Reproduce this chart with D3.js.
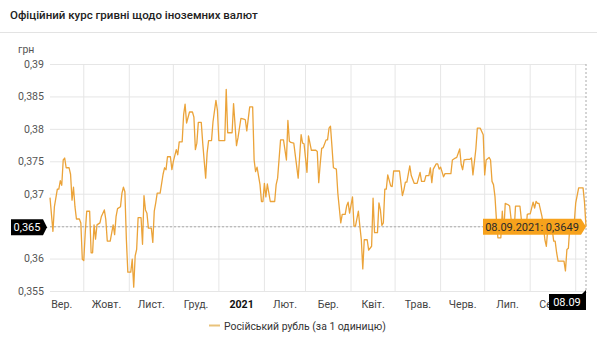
<!DOCTYPE html>
<html><head><meta charset="utf-8">
<script src="https://cdn.jsdelivr.net/npm/d3@7"></script>
<style>
html,body{margin:0;padding:0;background:#fff;}
svg{display:block;font-family:Roboto,"Noto Sans",Arial,sans-serif;}
</style></head>
<body><svg id="c" width="597" height="350"></svg>
<script>
const title = "Офіційний курс гривні щодо іноземних валют";
const unitLabel = "грн";
const seriesName = "Російський рубль (за 1 одиницю)";
const yTicks = [0.355, 0.36, 0.365, 0.37, 0.375, 0.38, 0.385, 0.39];
const monthLabels = ["Вер.","Жовт.","Лист.","Груд.","2021","Лют.","Бер.","Квіт.","Трав.","Черв.","Лип.","Серп."];
const dates = [
"2020-09-08","2020-09-10","2020-09-11","2020-09-13","2020-09-14","2020-09-15","2020-09-16","2020-09-17","2020-09-18","2020-09-19",
"2020-09-21","2020-09-22","2020-09-23","2020-09-24","2020-09-25","2020-09-26","2020-09-28","2020-09-29","2020-09-30",
"2020-10-01","2020-10-02","2020-10-03","2020-10-05","2020-10-06","2020-10-07","2020-10-08","2020-10-09","2020-10-10","2020-10-12",
"2020-10-13","2020-10-14","2020-10-15","2020-10-16","2020-10-17","2020-10-19","2020-10-21","2020-10-22","2020-10-23","2020-10-24",
"2020-10-26","2020-10-27","2020-10-28","2020-10-29","2020-10-30","2020-10-31",
"2020-11-02","2020-11-03","2020-11-04","2020-11-05","2020-11-06","2020-11-07","2020-11-09","2020-11-10","2020-11-11","2020-11-12",
"2020-11-13","2020-11-14","2020-11-16","2020-11-17","2020-11-18","2020-11-19","2020-11-20","2020-11-22","2020-11-24","2020-11-25",
"2020-11-26","2020-11-27","2020-11-29","2020-11-30",
"2020-12-01","2020-12-03","2020-12-04","2020-12-05","2020-12-07","2020-12-08","2020-12-09","2020-12-10","2020-12-12","2020-12-14",
"2020-12-15","2020-12-16","2020-12-17","2020-12-18","2020-12-20","2020-12-21","2020-12-23","2020-12-24","2020-12-25","2020-12-27",
"2020-12-28","2020-12-30","2020-12-31",
"2021-01-01","2021-01-05","2021-01-06","2021-01-07","2021-01-10","2021-01-11","2021-01-13","2021-01-14","2021-01-16","2021-01-18",
"2021-01-19","2021-01-20","2021-01-22","2021-01-24","2021-01-25","2021-01-26","2021-01-27","2021-01-29","2021-01-30","2021-01-31",
"2021-02-01","2021-02-02","2021-02-03","2021-02-05","2021-02-08","2021-02-09","2021-02-10","2021-02-12","2021-02-14","2021-02-16",
"2021-02-17","2021-02-18","2021-02-19","2021-02-21","2021-02-24","2021-02-26","2021-02-27","2021-02-28",
"2021-03-02","2021-03-03","2021-03-05","2021-03-08","2021-03-09","2021-03-10","2021-03-11","2021-03-12","2021-03-13","2021-03-15",
"2021-03-16","2021-03-17","2021-03-18","2021-03-19","2021-03-20","2021-03-22","2021-03-23","2021-03-25","2021-03-26","2021-03-28",
"2021-03-29","2021-03-30","2021-03-31",
"2021-04-02","2021-04-03","2021-04-04","2021-04-06","2021-04-07","2021-04-08","2021-04-09","2021-04-10","2021-04-12","2021-04-13",
"2021-04-15","2021-04-16","2021-04-17","2021-04-19","2021-04-20","2021-04-21","2021-04-22","2021-04-23","2021-04-24","2021-04-25",
"2021-04-26","2021-04-28","2021-04-29","2021-04-30",
"2021-05-04","2021-05-06","2021-05-07","2021-05-08","2021-05-09","2021-05-11","2021-05-12","2021-05-14","2021-05-16","2021-05-18",
"2021-05-19","2021-05-21","2021-05-22","2021-05-24","2021-05-25","2021-05-26","2021-05-27","2021-05-29","2021-05-30","2021-05-31",
"2021-06-01","2021-06-03","2021-06-04","2021-06-06","2021-06-08","2021-06-09","2021-06-11","2021-06-12","2021-06-14","2021-06-15",
"2021-06-16","2021-06-17","2021-06-19","2021-06-21","2021-06-22","2021-06-23","2021-06-25","2021-06-26","2021-06-28","2021-06-30",
"2021-07-01","2021-07-02","2021-07-04","2021-07-05","2021-07-06","2021-07-07","2021-07-08","2021-07-09","2021-07-10","2021-07-12",
"2021-07-13","2021-07-14","2021-07-15","2021-07-17","2021-07-18","2021-07-20","2021-07-21","2021-07-22","2021-07-25","2021-07-26",
"2021-07-27","2021-07-29","2021-07-30","2021-07-31",
"2021-08-01","2021-08-03","2021-08-04","2021-08-05","2021-08-06","2021-08-07","2021-08-09","2021-08-10","2021-08-11","2021-08-12",
"2021-08-13","2021-08-15","2021-08-16","2021-08-17","2021-08-18","2021-08-19","2021-08-20","2021-08-23","2021-08-24","2021-08-25",
"2021-08-26","2021-08-27","2021-08-28","2021-08-31",
"2021-09-01","2021-09-03","2021-09-06","2021-09-07","2021-09-08"
];
const values = [
0.3694,0.3642,0.368,0.3707,0.3707,0.372,0.3713,0.3752,0.3755,0.374,
0.374,0.373,0.369,0.371,0.368,0.3661,0.3661,0.3655,0.3599,
0.3597,0.364,0.3673,0.3673,0.3609,0.3609,0.3652,0.363,0.3652,0.3655,
0.3665,0.367,0.3675,0.366,0.3627,0.3627,0.3652,0.3637,0.3665,0.3677,
0.368,0.3701,0.371,0.3703,0.363,0.3579,
0.3579,0.3599,0.3556,0.3604,0.3614,0.3663,0.3663,0.3622,0.3697,0.3675,
0.367,0.3647,0.3647,0.3625,0.3673,0.3686,0.3701,0.3701,0.373,0.374,
0.3737,0.3757,0.3757,0.3737,
0.375,0.3768,0.376,0.378,0.378,0.3822,0.3838,0.3809,0.3826,0.3826,
0.3818,0.3768,0.3778,0.381,0.381,0.3778,0.3724,0.3763,0.3782,0.3782,
0.3811,0.3844,0.3829,
0.3782,0.3782,0.3861,0.3794,0.3794,0.3839,0.3774,0.3786,0.3816,0.3815,
0.3814,0.3797,0.3834,0.3834,0.3752,0.3734,0.3741,0.3714,0.3688,0.3688,
0.3716,0.3695,0.3715,0.3688,0.3688,0.3714,0.3724,0.3783,0.3783,0.3752,
0.3813,0.3781,0.3779,0.3778,0.3724,0.3791,0.3778,0.3777,
0.3733,0.3789,0.3767,0.3767,0.3765,0.3717,0.3746,0.377,0.3771,0.3783,
0.3783,0.3801,0.3804,0.3773,0.374,0.3738,0.3701,0.3655,0.3668,0.3668,
0.3681,0.3687,0.367,
0.3695,0.365,0.365,0.3673,0.365,0.3629,0.3584,0.3629,0.3629,0.3613,
0.3619,0.3693,0.364,0.364,0.3686,0.3675,0.3651,0.3655,0.3707,0.3707,
0.3729,0.3712,0.3711,0.3735,
0.3735,0.3697,0.3706,0.3718,0.3718,0.3743,0.3728,0.3716,0.3716,0.3733,
0.3719,0.3719,0.3728,0.3728,0.374,0.3717,0.3738,0.3746,0.3746,0.3738,
0.3741,0.3726,0.3731,0.3731,0.3731,0.3752,0.3755,0.3756,0.3769,0.3745,
0.3737,0.3752,0.3753,0.3753,0.3755,0.3729,0.3769,0.3801,0.3801,0.3791,
0.3729,0.3752,0.3756,0.3752,0.3719,0.3714,0.3696,0.366,0.3632,0.3632,
0.3673,0.364,0.3685,0.3683,0.3681,0.364,0.364,0.3681,0.3681,0.366,
0.364,0.364,0.3668,0.3669,
0.3669,0.3687,0.3678,0.3688,0.3685,0.3685,0.3665,0.365,0.3629,0.3619,
0.3647,0.3647,0.3645,0.3627,0.3627,0.3609,0.3596,0.3596,0.3596,0.3581,
0.3614,0.3616,0.365,0.3655,
0.3686,0.3709,0.3709,0.3686,0.3649
];

const parse = d3.timeParse("%Y-%m-%d");
const data = dates.map((d,i)=>({date:parse(d), value:values[i]}));
const svg = d3.select("#c");
const lineColor = "#eba339";
const fmt = v => String(v).replace(".", ",");
const badgeValue = 0.365;

// header
svg.append("text").attr("x",10).attr("y",19).attr("font-size",11.5).attr("font-weight",500)
  .attr("fill","#222").text(title);
svg.append("line").attr("x1",0).attr("x2",597).attr("y1",32.5).attr("y2",32.5).attr("stroke","#e3e3e3");
svg.append("text").attr("x",18).attr("y",53).attr("font-size",10.5).attr("fill","#555").text(unitLabel);

const x = d3.scaleTime().domain([parse("2020-09-08"), parse("2021-09-08")]).range([50, 586]);
const y = d3.scaleLinear().domain([0.355, 0.39]).range([291, 64]);

// horizontal grid + y labels
const yAxis = d3.axisLeft(y).tickValues(yTicks).tickSize(-536).tickFormat(fmt).tickPadding(6);
const gy = svg.append("g").attr("transform","translate(50,0)").call(yAxis);
gy.select(".domain").remove();
gy.selectAll(".tick line").attr("stroke","#e6e6e6");
gy.selectAll(".tick text").attr("font-size",10.6).attr("fill","#555").attr("font-family","Roboto").attr("x",-6);
// the value badge replaces the label it covers
gy.selectAll(".tick").filter(d=>d===badgeValue).select("text").remove();

// vertical month grid
const monthStarts = d3.timeMonth.range(parse("2020-09-09"), parse("2021-09-08"));
svg.append("g").selectAll("line").data(monthStarts).join("line")
  .attr("x1",d=>x(d)).attr("x2",d=>x(d)).attr("y1",64).attr("y2",291)
  .attr("stroke","#e6e6e6");

// x labels at mid-month
const labelMonths = d3.timeMonth.range(parse("2020-09-01"), parse("2021-09-01"));
svg.append("g").selectAll("text").data(labelMonths).join("text")
  .attr("x",(d)=>x(new Date((+d + +d3.timeMonth.offset(d,1))/2)))
  .attr("y",307.5).attr("text-anchor","middle").attr("font-size",10.6)
  .attr("fill",(d,i)=>monthLabels[i]==="2021"?"#111":"#444")
  .attr("font-weight",(d,i)=>monthLabels[i]==="2021"?700:400)
  .text((d,i)=>monthLabels[i]);

// crosshair
const last = data[data.length-1];
svg.append("line").attr("x1",50).attr("x2",586).attr("y1",y(last.value)).attr("y2",y(last.value))
  .attr("stroke","#aaa").attr("stroke-dasharray","2,2");
svg.append("line").attr("x1",x(last.date)).attr("x2",x(last.date)).attr("y1",64).attr("y2",293)
  .attr("stroke","#aaa").attr("stroke-dasharray","2,2");

// line
const line = d3.line().x(d=>x(d.date)).y(d=>y(d.value));
svg.append("path").datum(data).attr("d",line).attr("fill","none")
  .attr("stroke",lineColor).attr("stroke-width",1.3).attr("stroke-linejoin","round");

// y badge
const yb = y(badgeValue)+1;
svg.append("path").attr("d",`M11,${yb-8}H43L47,${yb}L43,${yb+8}H11Z`).attr("fill","#000");
svg.append("text").attr("x",27).attr("y",yb+4).attr("text-anchor","middle").attr("font-size",11)
  .attr("fill","#fff").text(fmt(badgeValue));

// tooltip
const ty = y(last.value), tx = x(last.date);
svg.append("path").attr("d",`M483,${ty-8}H${tx-5}L${tx},${ty}L${tx-5},${ty+8}H483Z`).attr("fill","#f7a21c");
svg.append("text").attr("x",(483+tx-5)/2).attr("y",ty+4).attr("text-anchor","middle").attr("font-size",11)
  .attr("fill","#2a2a2a").text("08.09.2021: " + fmt(last.value));

// x badge
svg.append("path").attr("d",`M549,294H${tx-4}L${tx},290V310H549Z`).attr("fill","#000");
svg.append("text").attr("x",567).attr("y",306).attr("text-anchor","middle").attr("font-size",11)
  .attr("fill","#fff").text(d3.timeFormat("%d.%m")(last.date));

// legend
svg.append("line").attr("x1",209).attr("x2",220).attr("y1",325.5).attr("y2",325.5)
  .attr("stroke","#e9c27a").attr("stroke-width",2);
svg.append("text").attr("x",224).attr("y",329.5).attr("font-size",10.4).attr("fill","#333").text(seriesName);
</script></body></html>
